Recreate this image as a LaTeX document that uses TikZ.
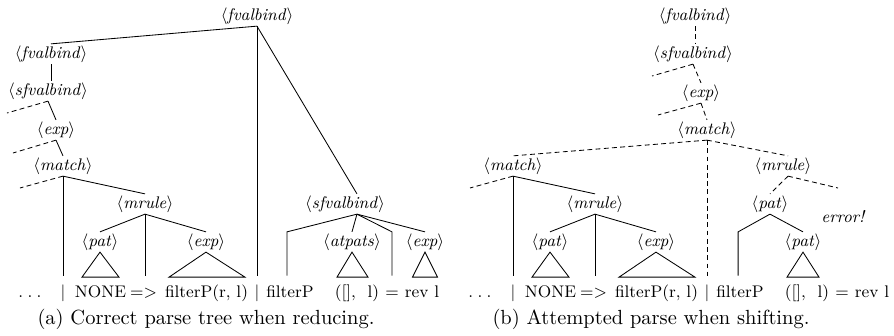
\documentclass[tikz,border=0pt]{standalone}
\usetikzlibrary{calc}
\newcommand\NT[1]{$\langle$\textit{#1}$\rangle$}
\newcommand\spreaddots{.\kern2.3pt.\kern2.3pt.}
\tikzset{
  px/.style={x=0.535pt,y=-0.535pt},
  nterm/.style={font=\small, text height=6.75pt, text depth=2.25pt, inner xsep=0pt, inner ysep=0.7pt},
  leaf/.style={font=\small, anchor=base, text height=7pt, text depth=2pt, inner xsep=0pt, inner ysep=4.2pt},
  dsh/.style={dash pattern=on 2.6pt off 1.8pt},
  capt/.style={font=\fontsize{10.95}{13.6}\selectfont, anchor=base, inner sep=0pt},
  tri/.style={line join=miter},
}
\begin{document}
\begin{tikzpicture}[px, line width=0.45pt]
\useasboundingbox (0,0) rectangle (894,336);

% ---------------- (a) tree built by reducing ----------------
\node[nterm] (fa)     at (257,16)  {\NT{fvalbind}};
\node[nterm] (fb)     at (51,54)   {\NT{fvalbind}};
\node[nterm] (sfa)    at (48,91)   {\NT{sfvalbind}};
\node[nterm] (expa)   at (56,130)  {\NT{exp}};
\node[nterm] (matcha) at (63,166)  {\NT{match}};
\node[nterm] (mrulea) at (145,204) {\NT{mrule}};
\node[nterm] (pata)   at (100,242) {\NT{pat}};
\node[nterm] (exp2a)  at (206,242) {\NT{exp}};
\node[nterm] (sfb)    at (345,204) {\NT{sfvalbind}};
\node[nterm] (atpats) at (352,242) {\NT{atpats}};
\node[nterm] (exp3a)  at (425,242) {\NT{exp}};

\node[leaf] (dotsA) at (30,297)    {\spreaddots};
\node[leaf] (barA1) at (63,297)    {$|$};
\node[leaf] (noneA) at (100.5,297) {NONE};
\node[leaf] (arrA)  at (143.5,297) {=>};
\node[leaf] (fpA)   at (206.5,297) {filterP(r, l)};
\node[leaf] (barA2) at (257,297)   {$|$};
\node[leaf] (filtA) at (290,297)   {filterP};
\node[leaf] (tupA)  at (357,297)   {([],\ \ l)};
\node[leaf] (eqA)   at (392,297)   {=};
\node[leaf] (revA)  at (422,297)   {rev l};

\coordinate (stubA1) at (7,113);
\coordinate (stubA2) at (13,153);
\coordinate (stubA3) at (20,188);

\draw (fa.south) -- (fb.north);
\draw (fa.south) -- (barA2.north);
\draw (fa.south) -- ([xshift=6.4pt]sfb.north);
\draw (fb.south) -- (fb.south |- sfa.north);
\draw[dsh] (sfa.south) -- (stubA1);
\draw (sfa.south) -- (expa.north);
\draw[dsh] (expa.south) -- (stubA2);
\draw (expa.south) -- (matcha.north);
\draw[dsh] (matcha.south) -- (stubA3);
\draw (matcha.south) -- (barA1.north);
\draw (matcha.south) -- (mrulea.north);
\draw (mrulea.south) -- (pata.north);
\draw (mrulea.south) -- (mrulea.south |- arrA.north);
\draw (mrulea.south) -- (exp2a.north);
\draw[tri] (pata.south) -- ++(-18,25) -- ++(37,0) -- cycle;
\draw[tri] (exp2a.south) -- ++(-37,25) -- ++(76,0) -- cycle;
\draw ([xshift=6.4pt]sfb.south) -- ([xshift=-1.6pt]filtA.north |- atpats.north) -- ([xshift=-1.6pt]filtA.north);
\draw ([xshift=6.4pt]sfb.south) -- (atpats.north);
\draw ([xshift=6.4pt]sfb.south) -- (eqA.north |- atpats.north) -- (eqA.north);
\draw ([xshift=6.4pt]sfb.south) -- (exp3a.north);
\draw[tri] (atpats.south) -- ++(-15,25) -- ++(31,0) -- cycle;
\draw[tri] (exp3a.south) -- ++(-12.5,25) -- ++(25,0) -- cycle;

\node[capt] (capA) at (206,324) {(a) Correct parse tree when reducing.};

% ---------------- (b) attempt made by shifting ----------------
\node[nterm] (fc)     at (695,16)  {\NT{fvalbind}};
\node[nterm] (sfc)    at (693,54)  {\NT{sfvalbind}};
\node[nterm] (expc)   at (701,93)  {\NT{exp}};
\node[nterm] (matchc) at (707,130) {\NT{match}};
\node[nterm] (matchd) at (513,166) {\NT{match}};
\node[nterm] (mruled) at (595,204) {\NT{mrule}};
\node[nterm] (patd)   at (550,242) {\NT{pat}};
\node[nterm] (expd)   at (656,242) {\NT{exp}};
\node[nterm] (mrulee) at (783,166) {\NT{mrule}};
\node[nterm] (pate)   at (770,204) {\NT{pat}};
\node[nterm] (pat2e)  at (803,242) {\NT{pat}};
\node[font=\small\itshape] (err) at (843,217) {error!};

\node[leaf] (dotsB) at (480,297)   {\spreaddots};
\node[leaf] (barB1) at (513,297)   {$|$};
\node[leaf] (noneB) at (550.5,297) {NONE};
\node[leaf] (arrB)  at (593.5,297) {=>};
\node[leaf] (fpB)   at (656.5,297) {filterP(r, l)};
\node[leaf] (barB2) at (707,297)   {$|$};
\node[leaf] (filtB) at (740,297)   {filterP};
\node[leaf] (tupB)  at (807,297)   {([],\ \ l)};
\node[leaf] (eqB)   at (842,297)   {=};
\node[leaf] (revB)  at (872,297)   {rev l};

\coordinate (stubB1) at (652,76);
\coordinate (stubB2) at (658,115);
\coordinate (stubB3) at (470,188);
\coordinate (stubB4) at (838,188);

\draw[dsh] (fc.south) -- (fc.south |- sfc.north);
\draw[dsh] (sfc.south) -- (stubB1);
\draw[dsh] (sfc.south) -- (expc.north);
\draw[dsh] (expc.south) -- (stubB2);
\draw[dsh] (expc.south) -- (matchc.north);
\draw[dsh] (matchc.south) -- (matchd.north);
\draw[dsh] (matchc.south) -- (barB2.north);
\draw[dsh] (matchc.south) -- ([xshift=2.7pt]mrulee.north);
\draw[dsh] (matchd.south) -- (stubB3);
\draw (matchd.south) -- (barB1.north);
\draw (matchd.south) -- (mruled.north);
\draw (mruled.south) -- (patd.north);
\draw (mruled.south) -- (mruled.south |- arrB.north);
\draw (mruled.south) -- (expd.north);
\draw[tri] (patd.south) -- ++(-18,25) -- ++(37,0) -- cycle;
\draw[tri] (expd.south) -- ++(-37,25) -- ++(76,0) -- cycle;
\draw[dsh] ([xshift=2.7pt]mrulee.south) -- (pate.north);
\draw[dsh] ([xshift=2.7pt]mrulee.south) -- (stubB4);
\draw (pate.south) -- ([xshift=-1pt]filtB.north |- pat2e.north) -- ([xshift=-1pt]filtB.north);
\draw (pate.south) -- (pat2e.north);
\draw[tri] (pat2e.south) -- ++(-16,25) -- ++(32,0) -- cycle;

\node[capt] (capB) at (651,324) {(b) Attempted parse when shifting.};
\end{tikzpicture}
\end{document}
